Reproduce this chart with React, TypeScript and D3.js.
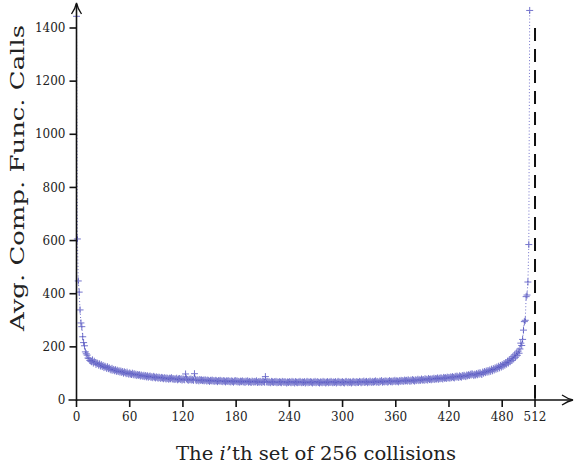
import React from 'react';
import * as d3 from 'd3';

// average comparison-function calls for each of the 512 sets of 256 collisions
const avgCalls: number[] = [
  1444, 606, 448, 406, 339, 290, 276, 238, 216, 204, 181, 174, 169, 158, 156, 149,
  147, 144, 151, 139, 146, 141, 134, 140, 137, 131, 136, 128, 133, 126, 130, 122,
  127, 124, 119, 125, 118, 121, 116, 113, 119, 112, 115, 110, 114, 108, 112, 107,
  110, 105, 109, 104, 107, 101, 106, 103, 99, 105, 100, 97, 102, 98, 96, 101,
  95, 99, 94, 97, 92, 96, 93, 95, 90, 94, 91, 89, 93, 88, 92, 87,
  91, 86, 89, 90, 85, 88, 84, 89, 86, 83, 87, 85, 82, 86, 84, 81,
  85, 83, 80, 84, 82, 79, 83, 81, 78, 82, 80, 84, 79, 81, 77, 80,
  78, 82, 76, 79, 81, 77, 80, 75, 79, 78, 76, 98, 80, 77, 74, 78,
  76, 79, 75, 77, 74, 99, 78, 73, 76, 75, 72, 77, 74, 76, 73, 75,
  72, 76, 74, 71, 75, 73, 70, 74, 72, 75, 71, 73, 70, 74, 72, 69,
  73, 71, 74, 70, 72, 69, 73, 71, 68, 72, 70, 73, 69, 71, 68, 72,
  70, 67, 71, 73, 69, 72, 68, 70, 67, 71, 69, 72, 68, 70, 66, 71,
  69, 72, 67, 70, 68, 66, 71, 69, 67, 70, 68, 72, 66, 69, 67, 70,
  68, 66, 71, 69, 67, 88, 68, 70, 66, 69, 67, 65, 70, 68, 66, 69,
  67, 70, 65, 68, 66, 69, 67, 65, 70, 68, 66, 69, 67, 64, 68, 66,
  69, 67, 65, 70, 66, 68, 64, 69, 67, 65, 68, 66, 70, 67, 65, 68,
  66, 69, 64, 67, 70, 65, 68, 66, 69, 67, 64, 68, 66, 70, 65, 67,
  69, 66, 64, 68, 67, 65, 70, 66, 68, 64, 67, 69, 65, 68, 66, 70,
  67, 65, 68, 66, 69, 64, 67, 70, 66, 68, 65, 67, 69, 66, 64, 68,
  70, 67, 65, 69, 66, 68, 64, 67, 70, 66, 68, 65, 69, 67, 66, 70,
  68, 65, 69, 67, 71, 66, 68, 70, 65, 69, 67, 71, 68, 66, 70, 67,
  69, 72, 67, 70, 68, 66, 71, 69, 73, 67, 70, 68, 72, 69, 71, 67,
  70, 73, 69, 71, 68, 72, 70, 74, 69, 72, 71, 68, 73, 70, 74, 71,
  73, 70, 75, 72, 74, 71, 76, 73, 70, 75, 72, 77, 74, 71, 76, 73,
  75, 78, 73, 76, 74, 79, 75, 77, 74, 80, 76, 78, 75, 81, 77, 79,
  76, 80, 78, 82, 77, 81, 79, 83, 78, 82, 80, 84, 81, 79, 85, 82,
  84, 81, 86, 83, 85, 82, 87, 84, 88, 85, 83, 89, 86, 90, 87, 85,
  91, 88, 86, 92, 89, 93, 90, 88, 94, 91, 95, 92, 97, 94, 99, 96,
  92, 97, 94, 99, 95, 101, 97, 103, 99, 96, 105, 101, 107, 103, 109, 105,
  111, 106, 113, 108, 116, 110, 118, 113, 121, 116, 124, 118, 127, 121, 130, 124,
  133, 127, 137, 131, 141, 135, 146, 139, 151, 144, 157, 149, 163, 155, 170, 161,
  177, 168, 184, 176, 192, 214, 205, 228, 263, 295, 300, 389, 395, 444, 585, 1466,
];

const xTicks = [0, 60, 120, 180, 240, 300, 360, 420, 480];
const yTicks = [0, 200, 400, 600, 800, 1000, 1200, 1400];
const boundary = { at: 517, label: '512' };

const font = 'DejaVu Serif, serif';
const markColor = '#3c3cb8';

export default function App() {
  const x = d3.scaleLinear().domain([0, 480]).range([76.5, 502.2]);
  const y = d3.scaleLinear().domain([0, 1400]).range([400, 28]);
  const x0 = x(0);
  const y0 = y(0);

  const path = d3.line<number>()
    .x((d, i) => x(i))
    .y((d) => y(d))(avgCalls) || '';

  return (
    <svg width={574} height={468} style={{ position: 'absolute', left: 0, top: 0, background: '#fff' }}>
      {/* dotted connecting line */}
      <path d={path} fill="none" stroke={markColor} strokeWidth={0.9} strokeDasharray="1,2.2" opacity={0.8} />
      {/* markers */}
      <g stroke={markColor} strokeWidth={1} opacity={0.7}>
        {avgCalls.map((v, i) => (
          <path key={i} d={`M${x(i) - 3.5},${y(v)}h7M${x(i)},${y(v) - 3.5}v7`} />
        ))}
      </g>

      {/* boundary dashed line */}
      <line x1={x(boundary.at)} x2={x(boundary.at)} y1={y(1400)} y2={y0 - 2}
        stroke="#111" strokeWidth={2} strokeDasharray="13,8" />

      {/* axes */}
      <g stroke="#111" strokeWidth={1.6} fill="none">
        <line x1={x0} x2={x0} y1={y0 + 1} y2={4} />
        <line x1={x0 - 8} x2={571} y1={y0} y2={y0} />
        <path d={`M${x0 - 5},${14} Q${x0 - 1},${8} ${x0},${3} Q${x0 + 1},${8} ${x0 + 5},${14}`} strokeWidth={1.3} />
        <path d={`M${562},${y0 - 5} Q${568},${y0 - 1} ${573},${y0} Q${568},${y0 + 1} ${562},${y0 + 5}`} strokeWidth={1.3} />
        {yTicks.filter((t) => t > 0).map((t) => (
          <line key={t} x1={x0 - 7} x2={x0} y1={y(t)} y2={y(t)} />
        ))}
        {xTicks.map((t) => (
          <line key={t} x1={x(t)} x2={x(t)} y1={y0} y2={y0 + 7} />
        ))}
        <line x1={x(boundary.at)} x2={x(boundary.at)} y1={y0 - 5} y2={y0 + 7} />
      </g>

      {/* tick labels */}
      <g fontFamily={font} fontSize={12} fill="#222">
        {yTicks.map((t) => (
          <text key={t} x={x0 - 11} y={y(t)} dy="0.35em" textAnchor="end">{t}</text>
        ))}
        {xTicks.map((t) => (
          <text key={t} x={x(t)} y={421} textAnchor="middle">{t}</text>
        ))}
        <text x={x(boundary.at)} y={421} textAnchor="middle">{boundary.label}</text>
      </g>

      {/* axis titles */}
      <text x={316} y={460} textAnchor="middle" fontFamily={font} fontSize={18} fill="#222"
        textLength={280} lengthAdjust="spacingAndGlyphs">
        The <tspan fontStyle="italic">i</tspan>’th set of 256 collisions
      </text>
      <text transform="translate(24,178) rotate(-90)" textAnchor="middle" fontFamily={font} fontSize={18} fill="#222"
        textLength={306} lengthAdjust="spacingAndGlyphs">
        Avg. Comp. Func. Calls
      </text>
    </svg>
  );
}
